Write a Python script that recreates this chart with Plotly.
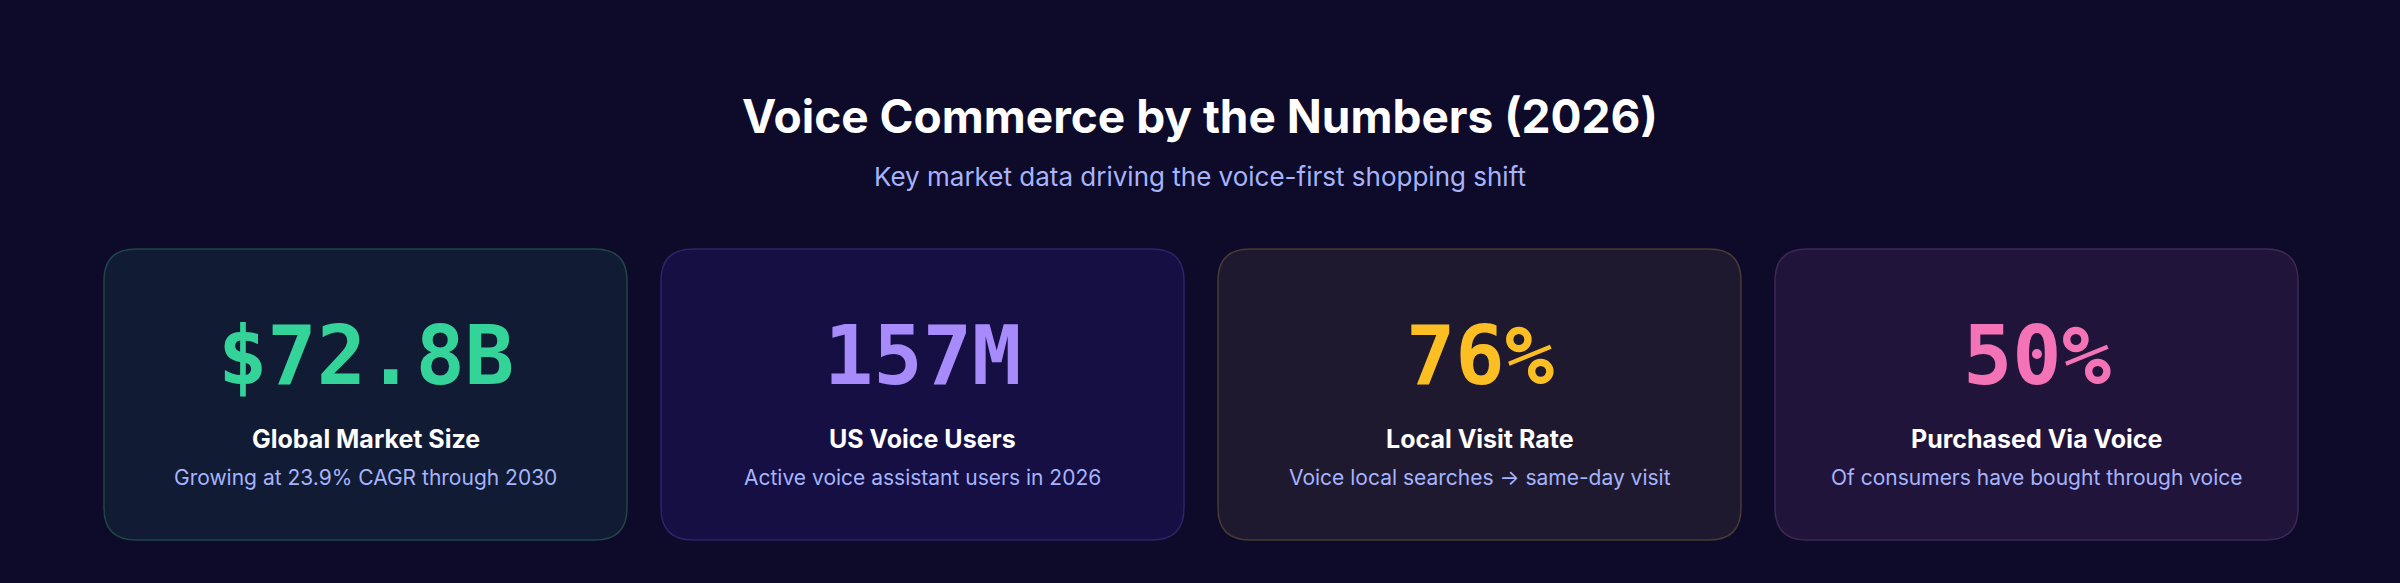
import plotly.graph_objects as go

# --- data ---
values = ["$72.8B", "157M", "76%", "50%"]
labels = ["Global Market Size", "US Voice Users", "Local Visit Rate", "Purchased Via Voice"]
notes = ["Growing at 23.9% CAGR through 2030",
         "Active voice assistant users in 2026",
         "Voice local searches → same-day visit",
         "Of consumers have bought through voice"]
accent = ["#34d399", "#a78bfa", "#fbbf24", "#f472b6"]
card_fill = ["#111b34", "#150f44", "#1f1930", "#21143a"]
card_line = ["#1f4548", "#2c2468", "#4a3a35", "#3c2855"]

W, H = 2400, 583
card_w, gap, x0 = 523, 34, 104
top, bot = 249, 540

fig = go.Figure()

def rounded(x1, y1, x2, y2, r):
    return (f"M{x1+r},{y1} L{x2-r},{y1} Q{x2},{y1} {x2},{y1+r} L{x2},{y2-r} "
            f"Q{x2},{y2} {x2-r},{y2} L{x1+r},{y2} Q{x1},{y2} {x1},{y2-r} "
            f"L{x1},{y1+r} Q{x1},{y1} {x1+r},{y1} Z")

for i in range(len(values)):
    xa = x0 + i * (card_w + gap)
    xb = xa + card_w
    cx = (xa + xb) / 2
    fig.add_shape(type="path", path=rounded(xa, top, xb, bot, 32),
                  fillcolor=card_fill[i], line=dict(color=card_line[i], width=1.5),
                  layer="below")
    fig.add_annotation(x=cx, y=355, text=f"<b>{values[i]}</b>", showarrow=False,
                       font=dict(family="DejaVu Sans Mono", size=82, color=accent[i]))
    fig.add_annotation(x=cx, y=439, text=f"<b>{labels[i]}</b>", showarrow=False,
                       font=dict(family="Inter", size=25, color="#ffffff"))
    fig.add_annotation(x=cx, y=477, text=notes[i], showarrow=False,
                       font=dict(family="Inter", size=21, color="#a5b4fc"))

fig.add_annotation(x=W / 2, y=116, text="<b>Voice Commerce by the Numbers (2026)</b>",
                   showarrow=False, font=dict(family="Inter", size=46, color="#ffffff"))
fig.add_annotation(x=W / 2, y=176, text="Key market data driving the voice-first shopping shift",
                   showarrow=False, font=dict(family="Inter", size=26, color="#a5b4fc"))

fig.update_layout(
    width=W, height=H,
    margin=dict(l=0, r=0, t=0, b=0),
    paper_bgcolor="#0e0a29", plot_bgcolor="#0e0a29",
    xaxis=dict(range=[0, W], visible=False, fixedrange=True),
    yaxis=dict(range=[H, 0], visible=False, fixedrange=True),
    showlegend=False,
)

# drop the page's default body margin so the figure fills the window
fig.write_html("out.html", config={"displayModeBar": False},
               post_script="document.body.style.margin='0';document.body.style.background='#0e0a29';")
